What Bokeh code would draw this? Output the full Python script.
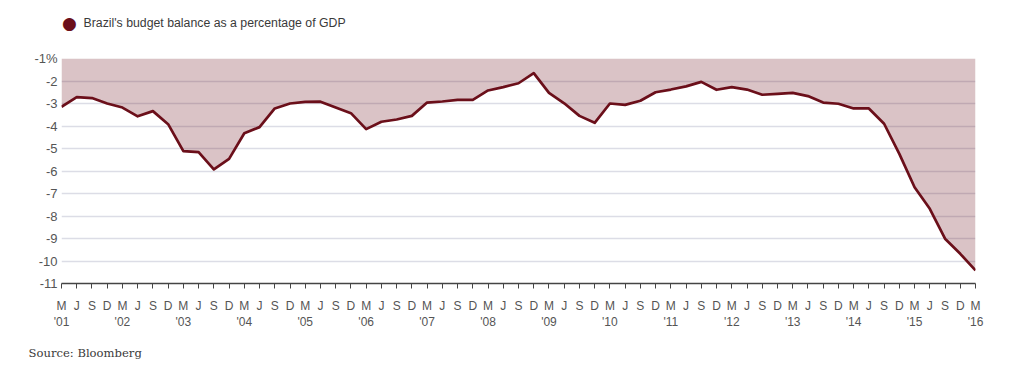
from bokeh.plotting import figure
from bokeh.models import Range1d, FixedTicker, Label
from bokeh.layouts import column
from bokeh.embed import file_html
from bokeh.resources import INLINE

# ---- data ----
quarters = ["M", "J", "S", "D"]
years = ["'01", "'02", "'03", "'04", "'05", "'06", "'07", "'08",
         "'09", "'10", "'11", "'12", "'13", "'14", "'15", "'16"]
balance = [
    -3.15, -2.72, -2.76, -3.00,
    -3.18, -3.57, -3.34, -3.92,
    -5.12, -5.16, -5.93, -5.46,
    -4.32, -4.05, -3.22, -3.00,
    -2.93, -2.92, -3.18, -3.43,
    -4.14, -3.81, -3.71, -3.55,
    -2.96, -2.91, -2.84, -2.84,
    -2.42, -2.27, -2.10, -1.65,
    -2.53, -2.99, -3.55, -3.86,
    -3.00, -3.06, -2.88, -2.50,
    -2.38, -2.24, -2.04, -2.39,
    -2.27, -2.38, -2.61, -2.57,
    -2.53, -2.67, -2.96, -3.01,
    -3.22, -3.22, -3.90, -5.24,
    -6.72, -7.68, -9.01, -9.68,
    -10.42,
]
y_ticks = [-1, -2, -3, -4, -5, -6, -7, -8, -9, -10, -11]
y_labels = ["-1%", "-2", "-3", "-4", "-5", "-6", "-7", "-8", "-9", "-10", "-11"]
series_name = "Brazil's budget balance as a percentage of GDP"
source_text = "Source: Bloomberg"

idx = list(range(len(balance)))
tick_labels = {}
for i in idx:
    q = quarters[i % 4]
    tick_labels[i] = q + "\n" + years[i // 4] if i % 4 == 0 else q

MAROON = "#6b0f1a"
TEXT = "#555555"
FONT = "Liberation Sans"
W = 1018


def blank(height):
    f = figure(width=W, height=height, output_backend="svg", toolbar_location=None,
               x_axis_type=None, y_axis_type=None, min_border=0,
               x_range=Range1d(0, 1), y_range=Range1d(0, 1))
    f.outline_line_color = None
    f.grid.grid_line_color = None
    f.frame_align = False
    return f


# ---- header (legend) ----
header = blank(40)
header.add_layout(Label(x=69, y=22, x_units="canvas", y_units="canvas", text="\u25CF",
                        text_color=MAROON, text_font="DejaVu Sans", text_font_size="17px",
                        text_align="center", text_baseline="middle"))
header.add_layout(Label(x=83, y=22, x_units="canvas", y_units="canvas", text=series_name,
                        text_color="#3a3a3a", text_font=FONT, text_font_size="12.3px",
                        text_align="left", text_baseline="middle"))

# ---- main chart ----
p = figure(width=W, height=295, output_backend="svg", toolbar_location=None,
           x_range=Range1d(0, len(balance) - 1), y_range=Range1d(-11, -1),
           min_border_left=61, min_border_right=43, min_border_top=18,
           min_border_bottom=52)
p.outline_line_color = None
p.frame_align = False

p.varea(x=idx, y1=balance, y2=[-1] * len(balance), fill_color=MAROON, fill_alpha=0.25)
p.line(x=idx, y=balance, line_color=MAROON, line_width=2.7, line_join="round")

p.yaxis.ticker = FixedTicker(ticks=y_ticks)
p.yaxis.major_label_overrides = dict(zip(y_ticks, y_labels))
p.yaxis.axis_line_color = None
p.yaxis.major_tick_line_color = None
p.yaxis.minor_tick_line_color = None
p.yaxis.major_tick_out = 0
p.yaxis.major_tick_in = 0
p.yaxis.major_label_standoff = 4
p.yaxis.major_label_text_font = FONT
p.yaxis.major_label_text_font_size = "13px"
p.yaxis.major_label_text_color = TEXT

p.xaxis.ticker = FixedTicker(ticks=idx)
p.xaxis.major_label_overrides = tick_labels
p.xaxis.axis_line_color = "#444444"
p.xaxis.axis_line_width = 1.5
p.xaxis.major_tick_line_color = "#444444"
p.xaxis.major_tick_out = 5
p.xaxis.major_tick_in = 0
p.xaxis.minor_tick_line_color = None
p.xaxis.major_label_standoff = 10
p.xaxis.major_label_text_font = FONT
p.xaxis.major_label_text_font_size = "12px"
p.xaxis.major_label_text_color = TEXT

p.xgrid.grid_line_color = None
p.ygrid.ticker = FixedTicker(ticks=y_ticks[:-1])
p.ygrid.grid_line_color = "#dcdde6"
p.ygrid.grid_line_width = 1.5

# ---- footer (source) ----
footer = blank(40)
footer.add_layout(Label(x=28, y=17, x_units="canvas", y_units="canvas", text=source_text,
                        text_color="#3a3a3a", text_font="DejaVu Serif", text_font_size="11.6px",
                        text_align="left", text_baseline="middle"))

layout = column(header, p, footer, spacing=0)
open("out.html", "w").write(file_html(layout, INLINE))
